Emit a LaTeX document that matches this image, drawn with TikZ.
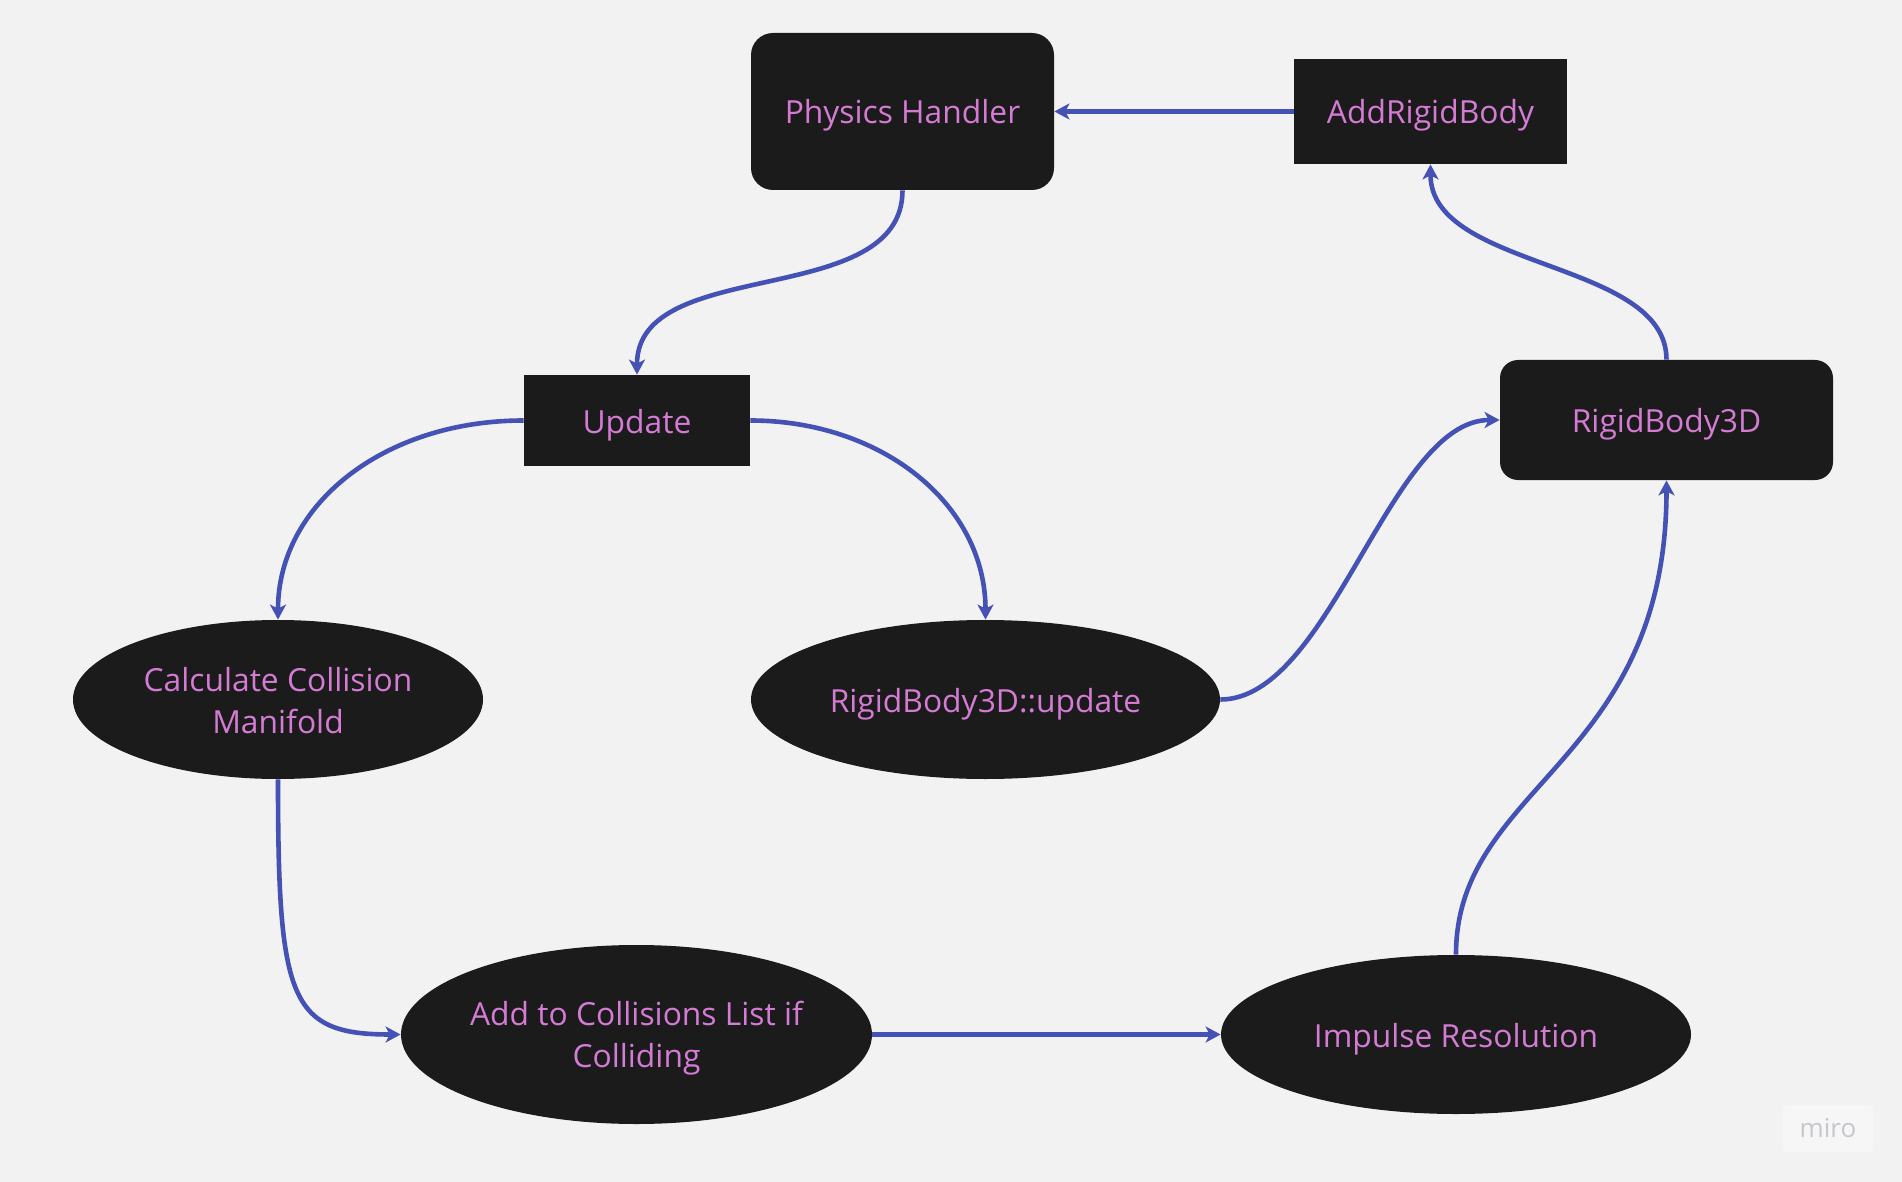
\documentclass[tikz,border=0pt]{standalone}
\usepackage{fontspec}
\setmainfont{Open Sans}
\usetikzlibrary{arrows.meta,shapes.geometric}
\definecolor{bg}{HTML}{F2F2F2}
\definecolor{nodefill}{HTML}{1B1B1B}
\definecolor{txt}{HTML}{D47BD4}
\definecolor{arr}{HTML}{4451B5}
\definecolor{logobg}{HTML}{F6F6F6}
\definecolor{logotxt}{HTML}{C6C6CC}
\tikzset{
  box/.style={fill=nodefill, draw=none, inner sep=0pt},
  rbox/.style={box, rounded corners=11pt},
  ell/.style={ellipse, fill=nodefill, draw=none, inner sep=0pt},
  lbl/.style={text=txt, font=\fontsize{15.9}{21.2}\selectfont, align=center, inner sep=0pt},
  link/.style={draw=arr, line width=2.3pt, -{Stealth[length=7.5pt,width=8pt,inset=2pt]}}
}
\begin{document}
\begin{tikzpicture}[x=0.5pt,y=-0.5pt]
\fill[bg] (0,0) rectangle (1902,1182);
\useasboundingbox (0,0) rectangle (1902,1182);

\node[rbox, minimum width=151.5pt, minimum height=78.5pt] (ph) at (902.5,111.5) {};
\node[lbl, yshift=-2pt] (pht) at (ph.center) {Physics Handler};
\node[box, minimum width=136.5pt, minimum height=52.5pt] (add) at (1430.5,111.5) {};
\node[lbl, yshift=-2pt] (addt) at (add.center) {AddRigidBody};
\node[box, minimum width=113pt, minimum height=45.5pt] (upd) at (637,420.5) {};
\node[lbl, yshift=-2.2pt] (updt) at (upd.center) {Update};
\node[rbox, rounded corners=9pt, minimum width=166.5pt, minimum height=60pt] (rb) at (1666.5,420) {};
\node[lbl, yshift=-2.2pt] (rbt) at (rb.center) {RigidBody3D};

\node[ell, minimum width=205pt, minimum height=79.5pt] (calc) at (278,699.5) {};
\node[lbl, yshift=-0.5pt] (calct) at (calc.center) {Calculate Collision\\Manifold};
\node[ell, minimum width=234.5pt, minimum height=79.5pt] (rbu) at (985.5,699.5) {};
\node[lbl, yshift=-2.2pt] (rbut) at (rbu.center) {RigidBody3D::update};
\node[ell, minimum width=235.5pt, minimum height=89.5pt] (acl) at (636.5,1034.5) {};
\node[lbl, yshift=-1.8pt] (aclt) at (acl.center) {Add to Collisions List if\\Colliding};
\node[ell, minimum width=235pt, minimum height=79.5pt] (imp) at (1456,1034.5) {};
\node[lbl, yshift=-2.2pt] (impt) at (imp.center) {Impulse Resolution};

\draw[link] (ph.south) .. controls +(0,120) and +(0,-120) .. (upd.north);
\draw[link] (upd.west) .. controls +(-140,0) and +(0,-115) .. (calc.north);
\draw[link] (upd.east) .. controls +(132,0) and +(0,-115) .. (rbu.north);
\draw[link] (rbu.east) .. controls +(110,0) and +(-110,0) .. (rb.west);
\draw[link] (rb.north) .. controls +(0,-100) and +(0,106) .. (add.south);
\draw[link] (add.west) -- (ph.east);
\draw[link] (calc.south) .. controls +(0,221) and +(-111,0) .. (acl.west);
\draw[link] (acl.east) -- (imp.west);
\draw[link] (imp.north) .. controls +(0,-170) and +(0,283) .. (rb.south);

\node[fill=logobg, rounded corners=2pt, minimum width=45pt, minimum height=23.5pt, inner sep=0pt, text=logotxt, font=\fontsize{13}{13}\selectfont] (logo) at (1828,1128.5) {miro};
\end{tikzpicture}
\end{document}
